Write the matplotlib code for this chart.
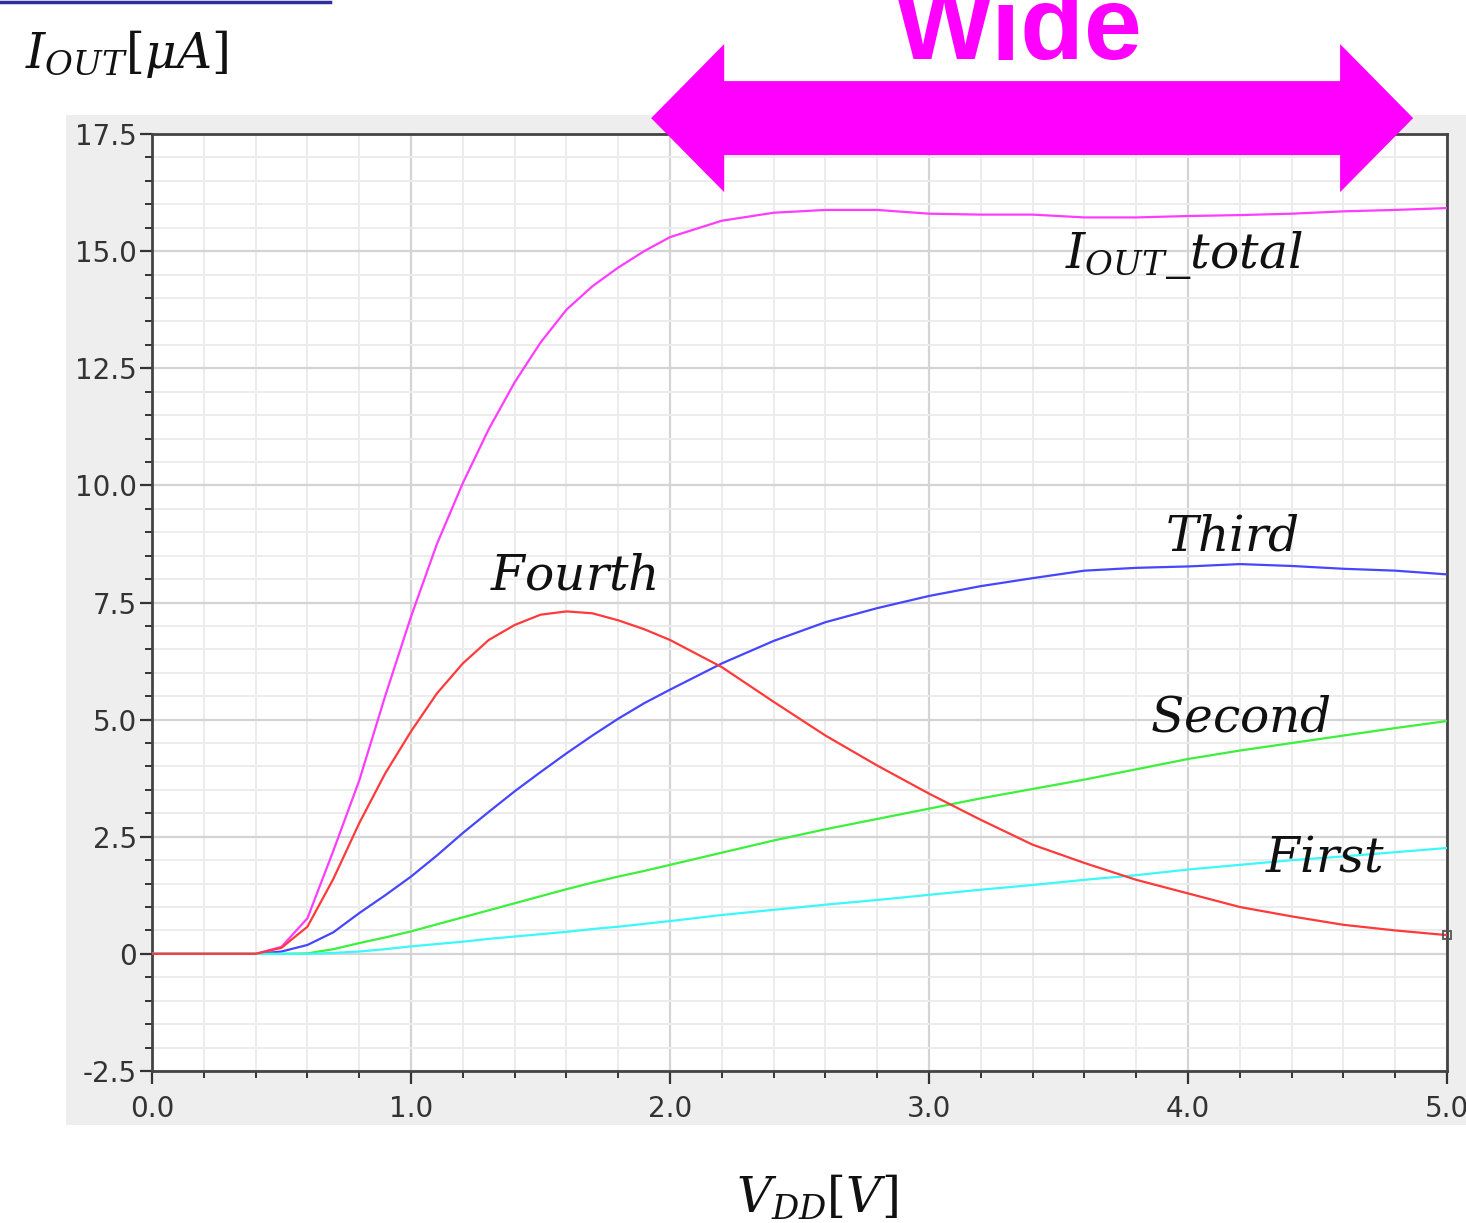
"""Output current of the four stages and their total versus supply voltage."""

import matplotlib
matplotlib.use("Agg")
import matplotlib.pyplot as plt
from matplotlib.patches import Rectangle, Polygon
from matplotlib.lines import Line2D
from matplotlib.ticker import MultipleLocator, FixedLocator, FixedFormatter

# supply voltage [V]
vdd = [0.0, 0.4, 0.5, 0.6, 0.7, 0.8, 0.9, 1.0, 1.1, 1.2, 1.3, 1.4, 1.5, 1.6,
       1.7, 1.8, 1.9, 2.0, 2.2, 2.4, 2.6, 2.8, 3.0, 3.2, 3.4, 3.6, 3.8, 4.0,
       4.2, 4.4, 4.6, 4.8, 5.0]

# output currents [uA]
i_total = [0.0, 0.0, 0.15, 0.76, 2.2, 3.7, 5.5, 7.2, 8.75, 10.05, 11.2, 12.2,
           13.05, 13.75, 14.25, 14.65, 15.0, 15.3, 15.65, 15.82, 15.88, 15.88,
           15.8, 15.78, 15.78, 15.72, 15.72, 15.75, 15.77, 15.8, 15.85, 15.88,
           15.92]
i_fourth = [0.0, 0.0, 0.13, 0.58, 1.6, 2.79, 3.85, 4.75, 5.56, 6.2, 6.7, 7.02,
            7.24, 7.31, 7.27, 7.12, 6.93, 6.7, 6.12, 5.38, 4.66, 4.02, 3.42, 2.86,
            2.33, 1.94, 1.58, 1.29, 1.0, 0.8, 0.62, 0.5, 0.4]
i_third = [0.0, 0.0, 0.05, 0.19, 0.46, 0.87, 1.25, 1.65, 2.1, 2.58, 3.03, 3.47,
           3.88, 4.28, 4.66, 5.02, 5.35, 5.64, 6.2, 6.68, 7.08, 7.38, 7.64, 7.85,
           8.02, 8.18, 8.24, 8.27, 8.32, 8.28, 8.22, 8.18, 8.1]
i_second = [0.0, 0.0, 0.0, 0.01, 0.1, 0.23, 0.35, 0.48, 0.63, 0.78, 0.93, 1.08,
            1.23, 1.38, 1.52, 1.65, 1.77, 1.9, 2.16, 2.42, 2.66, 2.88, 3.1,
            3.32, 3.52, 3.72, 3.94, 4.16, 4.34, 4.5, 4.66, 4.82, 4.97]
i_first = [0.0, 0.0, 0.0, 0.0, 0.02, 0.05, 0.1, 0.16, 0.21, 0.26, 0.32, 0.37,
           0.42, 0.47, 0.53, 0.58, 0.64, 0.7, 0.83, 0.94, 1.05, 1.15, 1.26,
           1.37, 1.47, 1.58, 1.68, 1.8, 1.9, 2.0, 2.08, 2.17, 2.26]

y_ticks = [-2.5, 0, 2.5, 5.0, 7.5, 10.0, 12.5, 15.0, 17.5]
y_tick_labels = ["-2.5", "0", "2.5", "5.0", "7.5", "10.0", "12.5", "15.0", "17.5"]
x_ticks = [0.0, 1.0, 2.0, 3.0, 4.0, 5.0]
x_tick_labels = ["0.0", "1.0", "2.0", "3.0", "4.0", "5.0"]

plt.rcParams["mathtext.fontset"] = "dejavuserif"

fig = plt.figure(figsize=(14.66, 12.23), dpi=100)

# grey panel behind the plot, like the simulator window
fig.patches.append(Rectangle((0.045, 0.0801), 0.955, 0.8258,
                             transform=fig.transFigure, facecolor="#eeeeee",
                             edgecolor="none", zorder=-10))
# slide decoration line at top left
fig.lines.append(Line2D([0.0, 0.225], [0.9985, 0.9985], transform=fig.transFigure,
                        color="#2e2e9e", linewidth=2.5, zorder=-5))

ax = fig.add_axes([0.1037, 0.1243, 0.8834, 0.7661])
ax.set_facecolor("white")
ax.set_xlim(0, 5.0)
ax.set_ylim(-2.5, 17.5)

# grid
ax.xaxis.set_major_locator(FixedLocator(x_ticks))
ax.xaxis.set_major_formatter(FixedFormatter(x_tick_labels))
ax.xaxis.set_minor_locator(MultipleLocator(0.2))
ax.yaxis.set_major_locator(FixedLocator(y_ticks))
ax.yaxis.set_major_formatter(FixedFormatter(y_tick_labels))
ax.yaxis.set_minor_locator(MultipleLocator(0.5))
ax.grid(which="minor", color="#ececec", linewidth=1.4)
ax.grid(which="major", color="#d4d4d4", linewidth=1.6)
ax.set_axisbelow(True)

ax.tick_params(which="major", length=9, width=1.6, color="#333333",
               labelsize=20, labelcolor="#333333", pad=2)
ax.tick_params(which="minor", length=5, width=1.4, color="#333333")
ax.tick_params(axis="x", pad=8)
for side in ["left", "bottom", "right", "top"]:
    ax.spines[side].set_color("#444444")
    ax.spines[side].set_linewidth(2.0)

# curves
lw = 1.6
ax.plot(vdd, i_total, color="#ff3cff", linewidth=lw, zorder=3)
ax.plot(vdd, i_third, color="#4646ff", linewidth=lw, zorder=3)
ax.plot(vdd, i_second, color="#3cf03c", linewidth=lw, zorder=3)
ax.plot(vdd, i_first, color="#3cf8f8", linewidth=lw, zorder=3)
ax.plot(vdd, i_fourth, color="#ff3a3a", linewidth=lw, zorder=4)
ax.plot([vdd[-1]], [i_fourth[-1]], marker="s", markersize=6, markerfacecolor="none",
        markeredgecolor="#555555", markeredgewidth=1.3, clip_on=False, zorder=5)

# curve labels
lbl = dict(fontsize=35, color="#111111", ha="left", va="baseline", zorder=6)
ax.text(3.525, 14.64, r"$I_{OUT}\_total$", **lbl)
ax.text(3.91, 8.62, r"$Third$", **lbl)
ax.text(1.305, 7.77, r"$Fourth$", **lbl)
ax.text(3.853, 4.74, r"$Second$", **lbl)
ax.text(4.297, 1.75, r"$First$", **lbl)

# "Wide" double arrow above the plot
x0, x1, yc = 1.927, 4.869, 17.84
shaft, head, head_len = 0.79, 1.58, 0.282
arrow = Polygon([(x0, yc), (x0 + head_len, yc + head), (x0 + head_len, yc + shaft),
                 (x1 - head_len, yc + shaft), (x1 - head_len, yc + head), (x1, yc),
                 (x1 - head_len, yc - head), (x1 - head_len, yc - shaft),
                 (x0 + head_len, yc - shaft), (x0 + head_len, yc - head)],
                closed=True, facecolor="#ff00ff", edgecolor="none",
                clip_on=False, zorder=7)
ax.add_patch(arrow)
ax.text(3.347, 19.1, "Wide", fontsize=75, fontweight="bold", family="Liberation Sans",
        color="#ff00ff", ha="center", va="baseline", clip_on=False, zorder=7)

# axis titles
fig.text(0.017, 1 - 68 / 1223, r"$I_{OUT}[\mu A]$", fontsize=35, color="#111111",
         ha="left", va="baseline")
fig.text(0.557, 1 - 1212 / 1223, r"$V_{DD}[V]$", fontsize=35, color="#111111",
         ha="center", va="baseline")

fig.savefig("out.png", dpi=100)
